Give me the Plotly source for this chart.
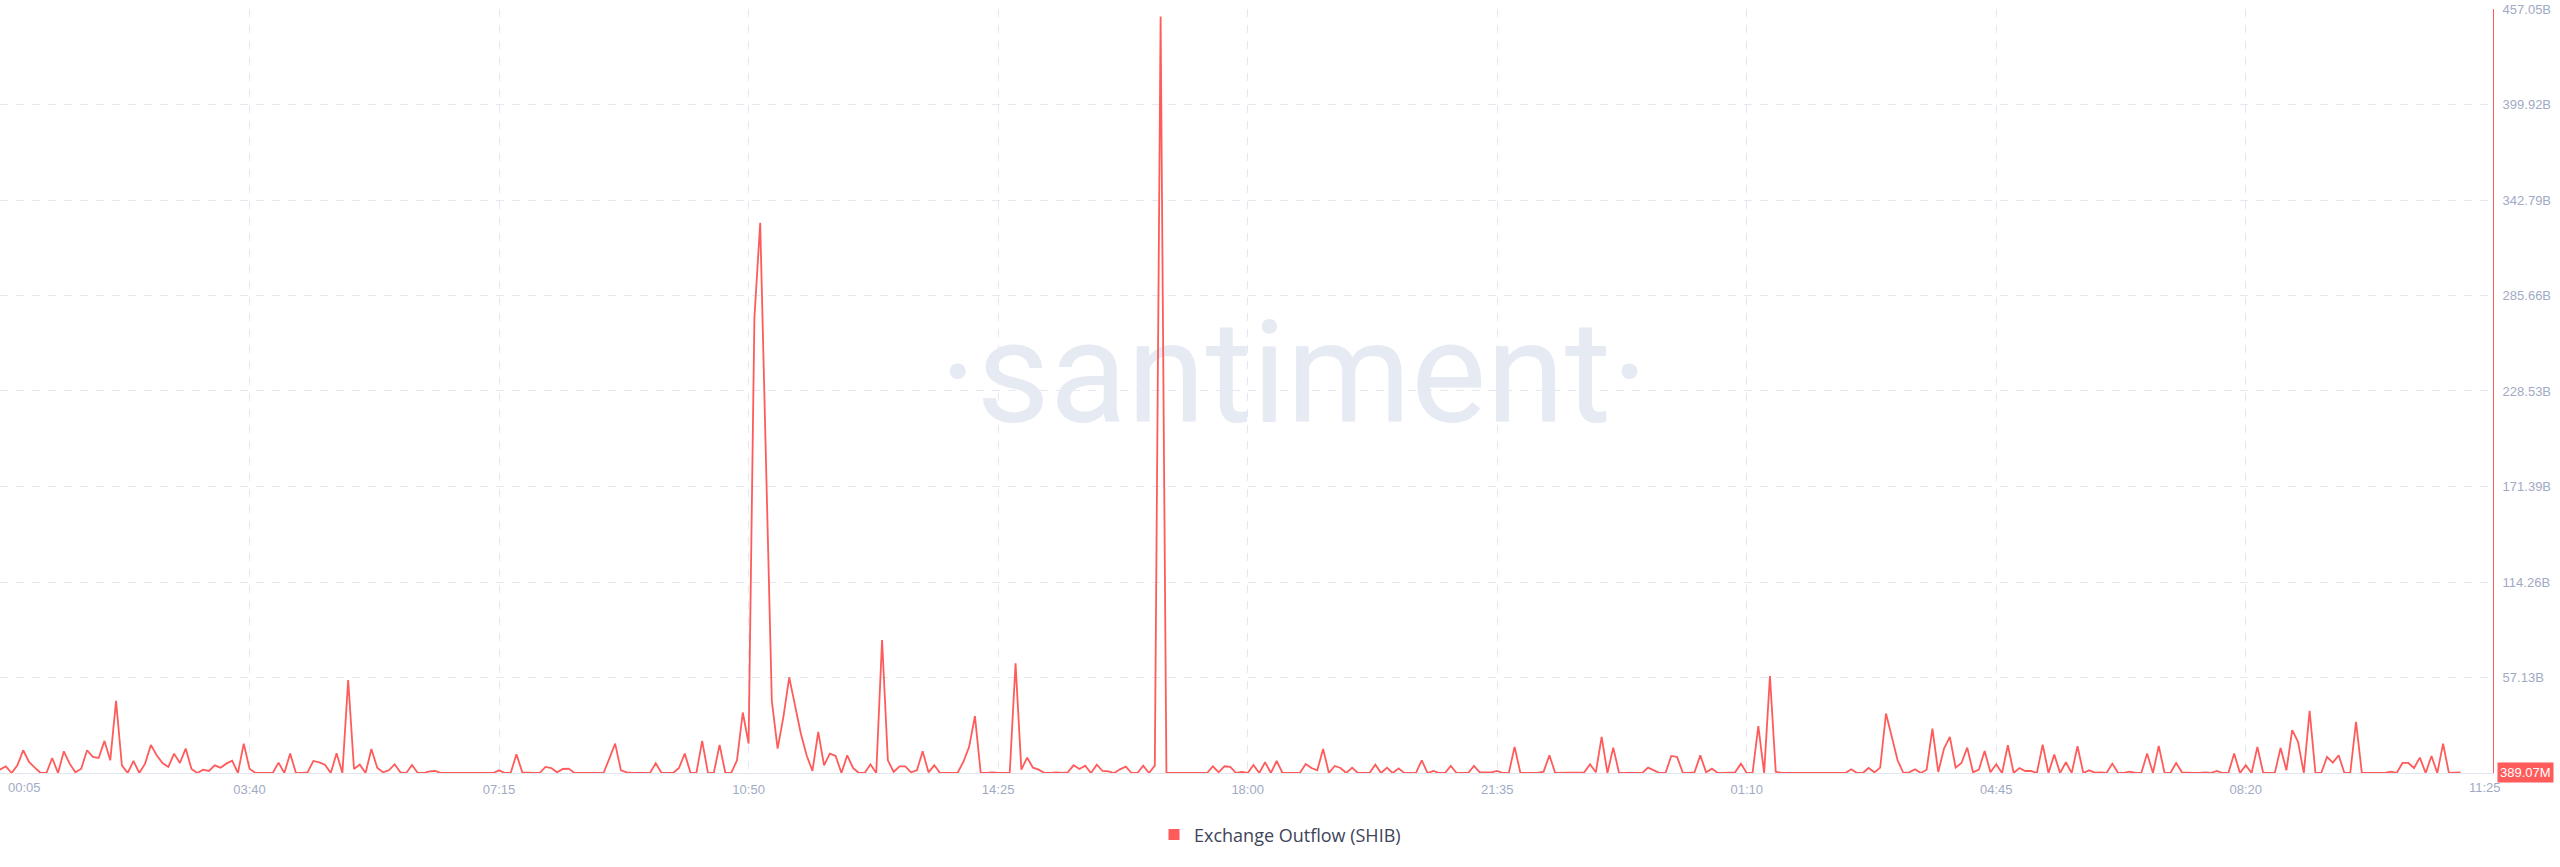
import pandas as pd
import plotly.graph_objects as go

# ---------------- data ----------------
series_name = "Exchange Outflow (SHIB)"
start_time = "2024-03-04 00:05"
interval = "5min"

# Exchange outflow per 5-minute bucket, in billions of SHIB
outflow_day1_night = [
    2.0, 4.0, 0, 4.6, 13.6, 6.6, 3.2, 0, 0, 9.0,
    0, 13.0, 5.6, 0.4, 2.6, 13.6, 9.6, 9.0, 19.2, 7.6,
    43.2, 4.6, 0, 7.2, 0, 5.6, 16.8, 10.6, 6.0, 3.6,
    11.6, 6.0, 14.6, 2.4, 0, 2.0, 1.2, 4.6, 3.2, 5.6,
    7.4, 0, 17.6, 2.6, 0, 0, 0, 0, 6.2, 0,
    11.6, 0, 0, 0.4, 7.2, 6.4, 5.0, 0, 11.8, 0,
    55.6, 2.4, 5.0, 0, 14.4, 3.2, 0.4, 1.6, 5.2, 0.4,
    0, 4.8, 0, 0, 1.0, 1.2, 0, 0, 0, 0,
    0, 0, 0, 0, 0, 0, 1.6,
]
outflow_day1_morning = [
    0, 0, 11.2, 0.4, 0, 0, 0, 3.6, 3.0, 0.4,
    2.4, 2.6, 0, 0, 0, 0, 0, 0, 8.6, 17.6,
    1.6, 0.4, 0, 0, 0, 0, 5.8, 0, 0, 0,
    3.0, 11.6, 0, 0, 19.2, 0, 0, 16.8, 0, 0,
    7.6, 36.2, 17.6, 272.4, 329.1, 186.0, 43.2, 14.6, 33.6, 57.2,
    39.6, 23.6, 10.6, 1.2, 24.6, 4.6, 11.6, 10.2, 0, 10.6,
    3.0, 0, 0, 5.2, 0, 79.6, 7.6, 0.6, 4.0, 4.0,
    0.4, 1.6, 13.0, 0.4, 4.6, 0, 0, 0, 0, 6.6,
    15.6, 34.0, 0, 0, 0.4, 0,
]
outflow_day1_afternoon = [
    0, 0, 65.6, 2.0, 9.2, 3.2, 2.0, 0, 0, 0.4,
    0, 0.4, 4.6, 2.4, 4.4, 0, 5.0, 1.2, 1.0, 0,
    2.2, 3.8, 0, 0, 4.4, 0, 4.4, 452.5, 0, 0,
    0.4, 0, 0, 0, 0, 0, 4.0, 0.4, 4.0, 3.6,
    0, 0.6, 0, 4.8, 0, 6.4, 0, 7.2, 0, 0,
    0.4, 0, 5.4, 3.0, 1.6, 14.4, 0, 4.2, 3.0, 0,
    3.2, 0, 0, 0, 5.0, 0, 3.2, 0, 2.8, 0,
    0, 0, 7.6, 0, 1.2, 0, 0, 4.2, 0, 0,
    0, 4.2, 0.4, 0.4, 0.4, 1.2,
]
outflow_day2_night = [
    0, 0, 15.6, 0, 0, 0.4, 0, 0.8, 10.6, 0,
    0, 0, 0, 0.4, 0.4, 5.2, 0.4, 21.6, 0, 15.2,
    0, 0, 0, 0, 0, 3.2, 1.6, 0, 0, 10.2,
    9.6, 0, 0, 0.4, 10.6, 0.4, 2.6, 0, 0, 0.4,
    0.4, 5.6, 0, 0, 28.0, 0, 58.0, 0.8, 0, 0,
    0, 0.4, 0.4, 0, 0, 0, 0, 0, 0, 0,
    2.2, 0, 0, 3.0, 0.4, 3.2, 35.6, 21.6, 7.6, 0,
    0.4, 2.2, 0, 2.0, 26.6, 0.6, 14.6, 21.6, 3.2, 6.0,
    15.2, 0.4, 2.0, 13.2, 0.4, 5.2,
]
outflow_day2_morning = [
    0, 16.6, 0, 3.0, 1.2, 1.2, 0, 17.0, 0, 11.0,
    0, 6.4, 0, 16.0, 0, 1.6, 0.2, 0.4, 0, 5.6,
    0, 0, 0.8, 0, 0, 11.6, 0, 16.2, 0, 0,
    6.0, 0.4, 0, 0, 0, 0.4, 0, 1.2, 0, 0,
    11.6, 0, 4.6, 0, 15.6, 0, 0, 0, 15.0, 1.6,
    25.6, 18.6, 0, 37.2, 0, 0, 9.6, 6.2, 10.6, 0,
    0, 30.6, 0, 0, 0.4, 0, 0, 0.8, 0, 6.0,
    6.0, 3.0, 9.2, 0, 10.2, 0, 17.6, 0, 0, 0.389,
]

x_tick_labels = ["00:05", "03:40", "07:15", "10:50", "14:25", "18:00",
                 "21:35", "01:10", "04:45", "08:20", "11:25"]
y_tick_values = [57.13, 114.26, 171.39, 228.53, 285.66, 342.79, 399.92, 457.05]
y_tick_labels = ["57.13B", "114.26B", "171.39B", "228.53B", "285.66B",
                 "342.79B", "399.92B", "457.05B"]
last_value_label = "389.07M"
watermark_text = "·santiment·"

# ---------------- build ----------------
outflow = (outflow_day1_night + outflow_day1_morning + outflow_day1_afternoon
           + outflow_day2_night + outflow_day2_morning)
times = pd.date_range(start_time, periods=len(outflow), freq=interval)

tick_times = []
j = 0
for lab in x_tick_labels:
    while times[j].strftime("%H:%M") != lab:
        j += 1
    tick_times.append(times[j])

RED = "#ff5b5b"
GRID = "#e5e8f2"
TICK = "#9faac4"
x_start = times[0]
x_end = times[-1] + pd.Timedelta(minutes=28)
y_max = y_tick_values[-1]

fig = go.Figure()

# watermark (drawn under the line)
wm_x = x_start + (x_end - x_start) * 0.519
wm_y = y_max * 0.5065
fig.add_trace(go.Scatter(
    x=[wm_x], y=[wm_y], mode="text", text=[watermark_text],
    textfont=dict(family="Roboto", size=142, color="#e6eaf3"),
    textposition="middle center", showlegend=False, hoverinfo="skip",
))

fig.add_trace(go.Scatter(
    x=times, y=outflow, mode="lines",
    line=dict(color=RED, width=1.8),
    showlegend=False, name=series_name,
))
# legend entry with square symbol
fig.add_trace(go.Scatter(
    x=[None], y=[None], mode="markers", name=series_name,
    marker=dict(symbol="square", size=11, color=RED),
))

fig.update_xaxes(
    range=[x_start, x_end],
    tickvals=tick_times[:-1],
    ticktext=[""] + x_tick_labels[1:-1],
    showgrid=True, gridcolor=GRID, griddash="8px,8px", gridwidth=1,
    showline=True, linecolor="#e1e5ef", linewidth=1,
    zeroline=False, ticks="",
    tickfont=dict(family="Liberation Sans", size=13, color=TICK),
    ticklabelstandoff=4,
)
fig.update_yaxes(
    range=[0, y_max], side="right",
    tickvals=y_tick_values, ticktext=y_tick_labels,
    showgrid=True, gridcolor=GRID, griddash="8px,8px", gridwidth=1,
    showline=True, linecolor=RED, linewidth=1,
    zeroline=False, ticks="",
    tickfont=dict(family="Liberation Sans", size=13, color=TICK),
    ticklabelstandoff=6,
)

annotations = [
    dict(x=0, xref="paper", xanchor="left", xshift=6,
         y=0, yref="paper", yanchor="middle", yshift=-14,
         text=x_tick_labels[0], showarrow=False,
         font=dict(family="Liberation Sans", size=13, color=TICK)),
    dict(x=1, xref="paper", xanchor="right", xshift=10,
         y=0, yref="paper", yanchor="middle", yshift=-14,
         text=x_tick_labels[-1], showarrow=False,
         font=dict(family="Liberation Sans", size=13, color=TICK)),
    dict(x=1, xref="paper", xanchor="left", xshift=4,
         y=outflow[-1], yref="y", yanchor="middle",
         text=last_value_label, showarrow=False, bgcolor=RED, borderpad=2,
         font=dict(family="Liberation Sans", size=13, color="white")),
]

fig.update_layout(
    width=2560, height=867,
    margin=dict(l=0, r=67, t=9, b=94),
    paper_bgcolor="white", plot_bgcolor="white",
    showlegend=True,
    legend=dict(orientation="h", xref="container", x=0.5, xanchor="center",
                yref="container", y=0.037, yanchor="middle",
                font=dict(family="Open Sans", size=18, color="#3e4459"),
                bgcolor="rgba(0,0,0,0)"),
    annotations=annotations,
    hovermode=False,
)

fig.write_html("out.html", config={"displayModeBar": False},
               post_script="document.body.style.margin='0';document.body.style.overflow='hidden';")
